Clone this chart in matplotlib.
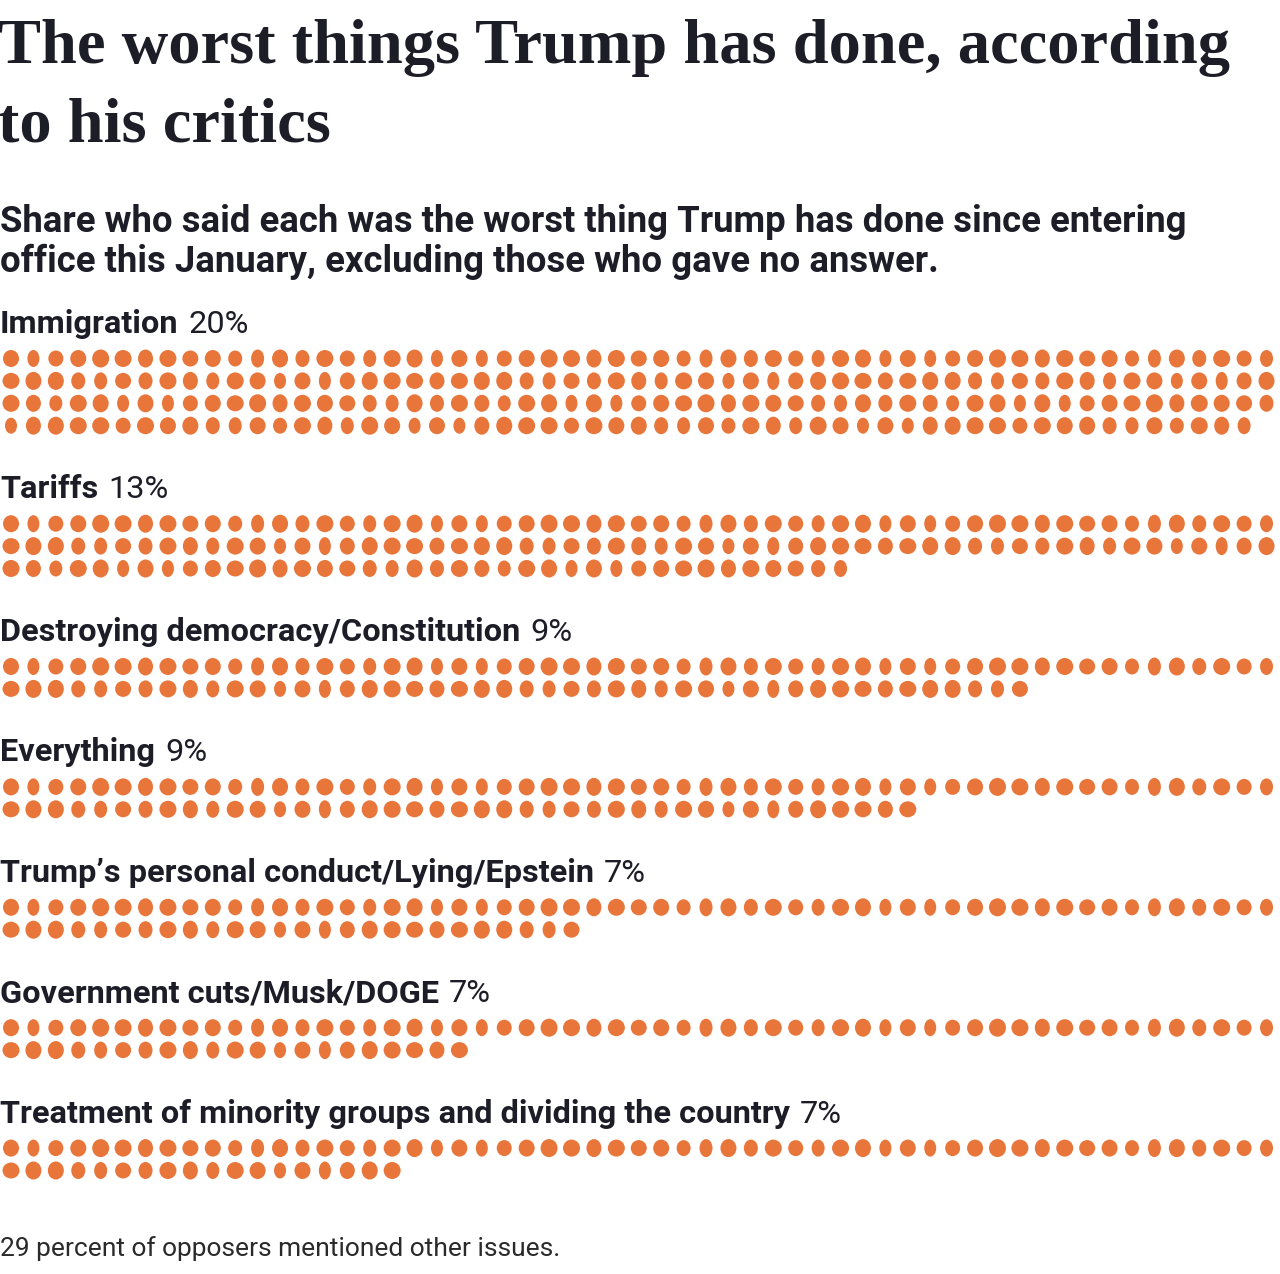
import matplotlib
matplotlib.use("Agg")
import matplotlib.pyplot as plt
from matplotlib.collections import EllipseCollection

# data: one dot per respondent, 57 dots per row
categories = [
    "Immigration",
    "Tariffs",
    "Destroying democracy/Constitution",
    "Everything",
    "Trump\u2019s personal conduct/Lying/Epstein",
    "Government cuts/Musk/DOGE",
    "Treatment of minority groups and dividing the country",
]
pct_labels = ["20%", "13%", "9%", "9%", "7%", "7%", "7%"]
dot_counts = [227, 152, 103, 98, 83, 78, 75]

title_lines = ["The worst things Trump has done, according", "to his critics"]
subtitle_lines = ["Share who said each was the worst thing Trump has done since entering",
                  "office this January, excluding those who gave no answer."]
footer = "29 percent of opposers mentioned other issues."

ORANGE = "#E8763B"
INK = "#1d1d27"
PER_ROW = 57
X0, DX = 11, 22.42
DY = 22.4

# hand-picked blob sizes so the dots look a little hand drawn
blob_w = [16, 12, 15, 16, 17, 17, 15, 17, 16, 16, 14, 13, 16, 14, 17, 15, 13, 17, 16, 12]
blob_h = [17, 17, 16, 17, 18, 17, 18, 17, 16, 17, 16, 18, 18, 17, 17, 16, 17, 17, 18, 17]

fig = plt.figure(figsize=(12.8, 12.74), dpi=100)
ax = fig.add_axes([0, 0, 1, 1])
ax.set_xlim(0, 1280)
ax.set_ylim(1274, 0)
ax.axis("off")

serif = ["Liberation Serif", "DejaVu Serif"]
sans = ["Roboto", "DejaVu Sans"]

for y, line in zip([63, 141], title_lines):
    ax.text(-2, y, line, fontsize=46.4, fontweight="bold", family=serif, color=INK,
            va="baseline", ha="left")
for y, line in zip([232, 272], subtitle_lines):
    ax.text(0, y, line, fontsize=26.3, fontweight="bold", family=sans, color=INK,
            va="baseline", ha="left")

fig.canvas.draw()
renderer = fig.canvas.get_renderer()
inv = ax.transData.inverted()

label_c = 323
for name, pct, n in zip(categories, pct_labels, dot_counts):
    t = ax.text(0, label_c + 10, name, fontsize=23.4, fontweight="bold", family=sans,
                color=INK, va="baseline", ha="left")
    bb = t.get_window_extent(renderer)
    x_end = inv.transform((bb.x1, bb.y0))[0]
    ax.text(x_end + 10, label_c + 10, pct, fontsize=23.4, fontweight="normal", family=sans,
            color=INK, va="baseline", ha="left")

    xs, ys, ws, hs = [], [], [], []
    for i in range(n):
        r, c = divmod(i, PER_ROW)
        xs.append(X0 + c * DX)
        ys.append(label_c + 35.5 + r * DY)
        k = (c + 7 * r) % len(blob_w)
        ws.append(blob_w[k])
        hs.append(blob_h[(k + 3 * r) % len(blob_h)])
    ec = EllipseCollection(ws, hs, [0] * n, units="xy", offsets=list(zip(xs, ys)),
                           offset_transform=ax.transData, facecolors=ORANGE,
                           edgecolors="none")
    ax.add_collection(ec)
    label_c = ys[-1] + 62.5

ax.text(0, 1256, footer, fontsize=19, family=sans, color="#2a2a2a",
        va="baseline", ha="left")

fig.savefig("out.png", dpi=100, facecolor="white")
